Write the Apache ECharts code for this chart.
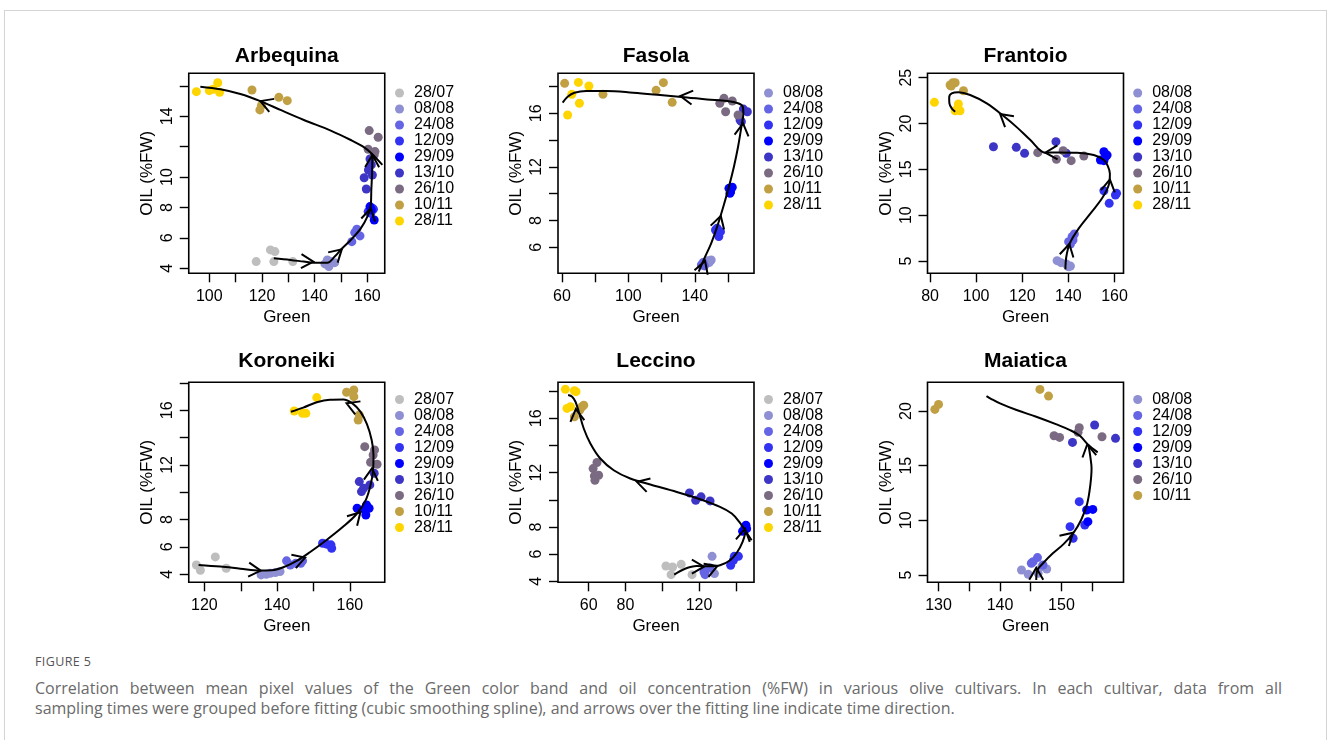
<!DOCTYPE html>
<html>
<head>
<meta charset="utf-8">
<title>Green band vs oil concentration</title>
<script src="https://cdn.jsdelivr.net/npm/echarts@6/dist/echarts.min.js"></script>
<style>
  html, body { margin: 0; padding: 0; background: #fff; }
  #frame { position: absolute; left: 4px; top: 10px; width: 1323px; height: 760px; border: 1px solid #d4d4d4; box-sizing: border-box; }
  #chart { position: absolute; left: 0; top: 0; width: 1328px; height: 645px; }
  #figlabel { position: absolute; left: 35px; top: 653px; font: 12.5px "Open Sans", sans-serif; color: #555; letter-spacing: 0.4px; }
  .capline { position: absolute; left: 35px; font: 16px/20px "Open Sans", sans-serif; color: #6a6a6a; white-space: nowrap; }
  #cap1 { top: 678px; width: 1247px; text-align: justify; text-align-last: justify; }
  #cap2 { top: 698px; }
</style>
</head>
<body>
<div id="frame"></div>
<div id="chart"></div>
<div id="figlabel">FIGURE 5</div>
<div class="capline" id="cap1">Correlation between mean pixel values of the Green color band and oil concentration (%FW) in various olive cultivars. In each cultivar, data from all</div>
<div class="capline" id="cap2">sampling times were grouped before fitting (cubic smoothing spline), and arrows over the fitting line indicate time direction.</div>
<script>
// ---------- sampling dates and their colours ----------
const DATE_COLORS = {
  '28/07': '#BEBEBE', '08/08': '#8F8FD3', '24/08': '#6464E4', '12/09': '#3232F2',
  '29/09': '#0000FF', '13/10': '#3C35C6', '26/10': '#7A6B82', '10/11': '#C1A044', '28/11': '#FFD500'
};

// ---------- Arbequina ----------
const arbequinaDates = ['28/07', '08/08', '24/08', '12/09', '29/09', '13/10', '26/10', '10/11', '28/11'];
const arbequinaGreen = [
  [117.8, 123.2, 124.9, 124.5, 131.7],
  [143.9, 145.4, 146.1, 144.8, 147.6],
  [154.1, 156.0, 157.2, 155.2],
  [160.3, 161.9, 161.3, 162.3],
  [161.0, 162.6, 161.5],
  [158.8, 159.6, 160.4, 161.9, 161.5, 161.0],
  [160.7, 164.1, 160.3, 162.9, 162.6],
  [116.2, 126.4, 129.6, 119.2, 119.8],
  [95.1, 100.0, 103.2, 103.9, 101.4]
];
const arbequinaOil = [
  [4.44, 5.21, 5.10, 4.44, 4.44],
  [4.29, 4.11, 4.44, 4.55, 4.37],
  [5.75, 6.57, 6.13, 6.35],
  [7.73, 7.95, 7.62, 7.89],
  [8.06, 7.18, 7.84],
  [9.96, 9.22, 10.47, 10.14, 10.80, 11.19],
  [13.06, 12.62, 11.83, 11.68, 11.46],
  [15.73, 15.25, 15.03, 14.42, 14.72],
  [15.62, 15.69, 16.21, 15.58, 15.78]
];
const arbequinaFitGreen = [
  [124.5, 130.8, 135.9, 139.5, 144.8, 147.6, 150.1, 153.7, 157.5, 160.0, 161.3, 161.5, 161.8, 161.9, 161.5],
  [165.7, 161.5, 158.8, 153.7, 146.1, 135.9, 127.0, 119.4, 111.8, 104.2, 96.6]
];
const arbequinaFitOil = [
  [4.66, 4.55, 4.44, 4.37, 4.37, 4.77, 5.25, 5.86, 6.63, 7.40, 8.17, 9.15, 10.25, 11.13, 11.57],
  [10.80, 11.57, 11.96, 12.44, 13.06, 13.76, 14.42, 15.00, 15.47, 15.78, 15.95]
];
// arrow: [tip green, tip oil, tail green, tail oil]
const arbequinaArrows = [[139.5, 4.44, 134.0, 4.48], [150.3, 5.25, 147.3, 4.77], [161.3, 7.95, 160.3, 7.18], [161.9, 11.46, 161.8, 10.58], [119.4, 15.00, 123.2, 14.75]];
const arbequinaXTicks = [100, 110, 120, 130, 140, 150, 160];
const arbequinaXLabels = [100, 120, 140, 160];
const arbequinaYTicks = [4, 6, 8, 10, 12, 14, 16];
const arbequinaYLabels = [4, 6, 8, 10, 14];

// ---------- Fasola ----------
const fasolaDates = ['08/08', '24/08', '12/09', '29/09', '13/10', '26/10', '10/11', '28/11'];
const fasolaGreen = [
  [147.4, 149.9, 148.7],
  [144.0, 145.8, 145.0],
  [152.5, 154.5, 155.5, 153.5],
  [160.6, 161.6, 162.6, 161.2],
  [169.3, 171.7, 167.3, 168.1],
  [157.6, 162.6, 155.1, 158.6, 166.1],
  [61.6, 84.7, 116.7, 121.1, 126.4],
  [63.4, 65.9, 69.9, 70.5, 76.2]
];
const fasolaOil = [
  [5.00, 5.05, 4.86],
  [4.68, 4.61, 4.86],
  [7.29, 6.80, 7.17, 7.42],
  [10.40, 10.15, 10.48, 10.03],
  [16.32, 16.12, 15.50, 15.38],
  [17.12, 16.92, 16.75, 16.12, 15.88],
  [18.24, 17.42, 17.72, 18.29, 16.82],
  [15.88, 17.42, 18.31, 16.75, 18.04]
];
const fasolaFitGreen = [
  [142.4, 145.8, 149.9, 153.5, 157.2, 160.6, 163.6, 166.1, 168.1, 169.3, 168.9, 166.1, 159.6, 147.4, 135.3, 119.1, 102.9, 86.7, 74.6, 67.5, 63.4, 60.4]
];
const fasolaFitOil = [
  [4.18, 5.18, 6.30, 7.54, 9.03, 10.53, 12.02, 13.51, 15.00, 16.00, 16.50, 16.75, 16.92, 17.04, 17.19, 17.37, 17.54, 17.67, 17.67, 17.54, 17.24, 16.80]
];
const fasolaArrows = [[146.2, 4.98, 144.0, 4.18], [155.7, 8.34, 153.5, 7.42], [169.1, 15.25, 168.1, 14.26], [131.3, 17.29, 139.4, 17.17]];
const fasolaXTicks = [60, 80, 100, 120, 140, 160];
const fasolaXLabels = [60, 100, 140];
const fasolaYTicks = [6, 8, 10, 12, 14, 16, 18];
const fasolaYLabels = [6, 8, 12, 16];

// ---------- Frantoio ----------
const frantoioDates = ['08/08', '24/08', '12/09', '29/09', '13/10', '26/10', '10/11', '28/11'];
const frantoioGreen = [
  [135.1, 136.8, 140.1, 140.9, 139.1],
  [140.1, 141.6, 142.6, 140.9, 142.0],
  [155.4, 157.7, 160.4, 160.9],
  [155.4, 156.1, 155.4, 153.9, 156.8],
  [107.5, 117.4, 121.0, 134.6, 139.1],
  [126.7, 134.8, 137.7, 141.2, 146.7],
  [88.7, 89.9, 90.9, 94.5, 89.2],
  [81.9, 92.3, 90.9, 93.0, 92.0]
];
const frantoioOil = [
  [5.04, 4.82, 4.38, 4.45, 4.67],
  [7.11, 7.65, 7.95, 6.85, 7.29],
  [12.67, 11.29, 12.20, 12.38],
  [16.93, 16.38, 15.95, 16.02, 16.56],
  [17.47, 17.40, 16.75, 18.02, 16.75],
  [16.82, 16.09, 17.04, 15.95, 16.45],
  [24.20, 24.45, 24.45, 23.58, 24.10],
  [22.31, 22.13, 21.40, 21.40, 21.65]
];
const frantoioFitGreen = [
  [138.7, 139.1, 140.6, 144.5, 149.6, 154.6, 157.5, 158.0, 157.1, 155.4, 151.0, 143.8, 135.1, 130.0, 123.5, 117.7, 111.9, 104.6, 97.4, 92.3, 89.4, 88.3, 88.4, 89.4, 90.9]
];
const frantoioFitOil = [
  [4.09, 5.47, 6.93, 8.56, 10.20, 11.84, 13.29, 14.56, 15.36, 16.02, 16.56, 16.82, 16.85, 16.82, 18.20, 19.58, 20.82, 22.20, 23.11, 23.40, 23.29, 22.85, 22.20, 21.65, 21.29]
];
const frantoioArrows = [[140.4, 6.85, 139.3, 5.65], [158.0, 13.91, 157.1, 12.56], [130.0, 16.82, 136.5, 16.85], [110.4, 21.04, 116.2, 19.84]];
const frantoioXTicks = [80, 100, 120, 140, 160];
const frantoioXLabels = [80, 100, 120, 140, 160];
const frantoioYTicks = [5, 10, 15, 20, 25];
const frantoioYLabels = [5, 10, 15, 20, 25];

// ---------- Koroneiki ----------
const koroneikiDates = ['28/07', '08/08', '24/08', '12/09', '29/09', '13/10', '26/10', '10/11', '28/11'];
const koroneikiGreen = [
  [117.8, 118.9, 123.0, 126.0],
  [135.6, 138.1, 139.5, 140.8, 137.0],
  [142.6, 143.6, 145.1, 146.5, 147.0],
  [152.5, 153.6, 155.0, 154.8],
  [162.0, 164.1, 165.3, 164.4, 164.6],
  [162.6, 163.2, 165.5, 166.7, 163.8],
  [164.1, 166.8, 166.4, 165.7, 167.5],
  [159.1, 161.1, 161.1, 162.6, 162.3],
  [144.7, 147.0, 147.9, 150.9]
];
const koroneikiOil = [
  [4.68, 4.29, 5.27, 4.44],
  [3.95, 4.07, 4.12, 4.20, 4.00],
  [4.98, 4.68, 4.80, 4.80, 4.98],
  [6.27, 6.20, 5.90, 6.15],
  [8.83, 8.71, 8.83, 8.34, 9.07],
  [10.78, 10.05, 10.54, 11.39, 10.30],
  [13.34, 13.10, 12.73, 12.20, 12.05],
  [17.32, 17.49, 17.00, 15.66, 15.29],
  [15.95, 15.78, 15.78, 16.93]
];
const koroneikiFitGreen = [
  [118.4, 124.4, 129.9, 135.3, 138.5, 141.7, 145.4, 149.0, 153.6, 158.2, 161.8, 164.4, 165.7, 166.4, 166.5, 166.0, 164.7, 162.9, 160.7, 158.2, 154.5, 150.9, 147.2, 143.8]
];
const koroneikiFitOil = [
  [4.68, 4.56, 4.41, 4.27, 4.29, 4.51, 4.98, 5.61, 6.51, 7.49, 8.39, 9.44, 10.54, 11.63, 12.73, 13.83, 14.98, 15.90, 16.51, 16.80, 16.78, 16.59, 16.20, 15.90]
];
const koroneikiArrows = [[135.5, 4.27, 132.1, 4.34], [147.7, 5.22, 144.5, 4.93], [162.9, 8.54, 160.9, 7.98], [166.1, 11.76, 165.8, 10.90], [159.1, 16.51, 161.8, 16.22]];
const koroneikiXTicks = [120, 130, 140, 150, 160];
const koroneikiXLabels = [120, 140, 160];
const koroneikiYTicks = [4, 6, 8, 10, 12, 14, 16, 18];
const koroneikiYLabels = [4, 6, 8, 12, 16];

// ---------- Leccino ----------
const leccinoDates = ['28/07', '08/08', '24/08', '12/09', '29/09', '13/10', '26/10', '10/11', '28/11'];
const leccinoGreen = [
  [102.0, 105.6, 110.3, 104.8, 116.2],
  [127.1, 128.4, 124.2],
  [123.3, 122.7, 126.0],
  [137.2, 139.2, 141.4, 138.7],
  [145.0, 145.9, 143.7, 145.5],
  [114.8, 118.2, 121.1, 126.0],
  [64.5, 62.4, 63.1, 65.4, 63.4],
  [52.2, 56.4, 57.3, 55.1],
  [47.3, 52.2, 53.1, 48.2, 50.1]
];
const leccinoOil = [
  [5.13, 5.06, 5.25, 4.49, 4.49],
  [5.84, 4.57, 4.93],
  [4.49, 4.69, 4.98],
  [5.18, 5.84, 5.84, 5.55],
  [8.00, 7.88, 7.69, 8.13],
  [10.51, 9.97, 10.22, 9.92],
  [12.75, 12.30, 11.76, 11.81, 11.44],
  [16.11, 16.85, 16.97, 16.60],
  [18.13, 18.03, 17.96, 16.73, 16.85]
];
const leccinoFitGreen = [
  [106.5, 112.4, 118.8, 126.0, 131.4, 136.9, 140.8, 143.7, 145.4],
  [148.6, 145.4, 141.9, 137.8, 131.4, 120.6, 107.9, 93.5, 82.6, 73.6, 66.3, 60.9, 57.3, 54.6, 52.8, 51.0, 48.8]
];
const leccinoFitOil = [
  [4.49, 4.93, 5.13, 5.11, 5.18, 5.55, 6.16, 6.90, 7.69],
  [7.02, 7.69, 8.37, 8.99, 9.48, 10.04, 10.58, 11.13, 11.57, 12.18, 13.04, 14.15, 15.25, 16.48, 17.22, 17.59, 17.71]
];
const leccinoArrows = [[122.7, 5.08, 116.6, 5.08], [130.0, 5.13, 125.1, 4.88], [145.0, 7.88, 143.7, 6.90], [86.2, 11.32, 92.5, 11.08], [53.0, 16.68, 54.0, 15.62]];
const leccinoXTicks = [60, 80, 100, 120, 140];
const leccinoXLabels = [60, 80, 120];
const leccinoYTicks = [4, 6, 8, 10, 12, 14, 16, 18];
const leccinoYLabels = [4, 6, 8, 12, 16];

// ---------- Maiatica ----------
const maiaticaDates = ['08/08', '24/08', '12/09', '29/09', '13/10', '26/10', '10/11'];
const maiaticaGreen = [
  [143.5, 144.6, 146.2, 147.6, 146.8],
  [145.4, 146.1, 147.0, 145.1],
  [151.4, 151.9, 152.9, 153.8],
  [154.1, 155.1, 154.3],
  [151.8, 155.4, 158.8],
  [148.8, 149.7, 152.9, 152.7, 156.6],
  [129.4, 130.0, 146.5, 147.9]
];
const maiaticaOil = [
  [5.46, 5.06, 5.15, 5.55, 5.76],
  [6.22, 6.59, 5.91, 6.07],
  [9.42, 8.35, 11.71, 9.57],
  [10.95, 11.00, 9.88],
  [17.13, 18.72, 17.50],
  [17.74, 17.59, 18.48, 18.05, 17.65],
  [20.15, 20.61, 21.98, 21.37]
];
const maiaticaFitGreen = [
  [145.9, 146.1, 147.0, 148.6, 150.3, 151.9, 153.2, 154.2, 154.7, 154.9, 154.7, 154.4],
  [155.9, 154.4, 153.0, 151.4, 149.2, 145.9, 142.7, 140.0, 138.6, 137.8]
];
const maiaticaFitOil = [
  [4.54, 5.46, 6.07, 6.98, 7.80, 8.81, 10.03, 11.55, 13.23, 14.76, 15.82, 16.89],
  [16.22, 16.89, 17.74, 18.26, 18.78, 19.48, 20.09, 20.70, 21.10, 21.37]
];
const maiaticaArrows = [[145.9, 5.67, 145.9, 4.70], [151.9, 8.87, 150.3, 8.05], [154.2, 16.95, 154.6, 15.67]];
const maiaticaXTicks = [130, 135, 140, 145, 150, 155];
const maiaticaXLabels = [130, 140, 150];
const maiaticaYTicks = [5, 10, 15, 20];
const maiaticaYLabels = [5, 10, 15, 20];

// ---------- panel table ----------
const panels = [
  { title: 'Arbequina', dates: arbequinaDates, green: arbequinaGreen, oil: arbequinaOil, fitGreen: arbequinaFitGreen, fitOil: arbequinaFitOil, arrows: arbequinaArrows,
    xTicks: arbequinaXTicks, xLabels: arbequinaXLabels, yTicks: arbequinaYTicks, yLabels: arbequinaYLabels, xRange: [92.2, 166.6], yRange: [3.67, 16.83], col: 0, row: 0 },
  { title: 'Fasola', dates: fasolaDates, green: fasolaGreen, oil: fasolaOil, fitGreen: fasolaFitGreen, fitOil: fasolaFitOil, arrows: fasolaArrows,
    xTicks: fasolaXTicks, xLabels: fasolaXLabels, yTicks: fasolaYTicks, yLabels: fasolaYLabels, xRange: [57.6, 175.7], yRange: [4.06, 18.99], col: 1, row: 0 },
  { title: 'Frantoio', dates: frantoioDates, green: frantoioGreen, oil: frantoioOil, fitGreen: frantoioFitGreen, fitOil: frantoioFitOil, arrows: frantoioArrows,
    xTicks: frantoioXTicks, xLabels: frantoioXLabels, yTicks: frantoioYTicks, yLabels: frantoioYLabels, xRange: [78.9, 163.9], yRange: [3.66, 25.48], col: 2, row: 0 },
  { title: 'Koroneiki', dates: koroneikiDates, green: koroneikiGreen, oil: koroneikiOil, fitGreen: koroneikiFitGreen, fitOil: koroneikiFitOil, arrows: koroneikiArrows,
    xTicks: koroneikiXTicks, xLabels: koroneikiXLabels, yTicks: koroneikiYTicks, yLabels: koroneikiYLabels, xRange: [115.7, 169.6], yRange: [3.41, 18.05], col: 0, row: 1 },
  { title: 'Leccino', dates: leccinoDates, green: leccinoGreen, oil: leccinoOil, fitGreen: leccinoFitGreen, fitOil: leccinoFitOil, arrows: leccinoArrows,
    xTicks: leccinoXTicks, xLabels: leccinoXLabels, yTicks: leccinoYTicks, yLabels: leccinoYLabels, xRange: [43.3, 149.9], yRange: [3.93, 18.65], col: 1, row: 1 },
  { title: 'Maiatica', dates: maiaticaDates, green: maiaticaGreen, oil: maiaticaOil, fitGreen: maiaticaFitGreen, fitOil: maiaticaFitOil, arrows: maiaticaArrows,
    xTicks: maiaticaXTicks, xLabels: maiaticaXLabels, yTicks: maiaticaYTicks, yLabels: maiaticaYLabels, xRange: [128.2, 160.1], yRange: [4.33, 22.63], col: 2, row: 1 }
];

// ---------- layout ----------
const FONT = '"Liberation Sans", Arial, Helvetica, sans-serif';
const COL_LEFT = [188.75, 558, 927.5];
const ROW_TOP = [73.3, 382.3];
const BOX_W = 196, BOX_H = 200;
const TITLE_TOP = [45.5, 350.5];
const LEGEND_CX = [399.5, 768.5, 1137.7];
const LEGEND_FIRST_CY = [92.8, 399.3];
const LEGEND_ROW = 15.7;

const option = { animation: false, grid: [], xAxis: [], yAxis: [], title: [], legend: [], series: [] };

function drawArrowHead(params, api) {
  const tip = api.coord([api.value(0), api.value(1)]);
  const tail = api.coord([api.value(2), api.value(3)]);
  const a = Math.atan2(tail[1] - tip[1], tail[0] - tip[0]);
  const L = 14, s = Math.PI / 6;
  return {
    type: 'polyline',
    shape: { points: [
      [tip[0] + L * Math.cos(a + s), tip[1] + L * Math.sin(a + s)],
      tip,
      [tip[0] + L * Math.cos(a - s), tip[1] + L * Math.sin(a - s)]
    ] },
    style: { stroke: '#000', lineWidth: 2, fill: null }
  };
}

panels.forEach((p, i) => {
  const left = COL_LEFT[p.col], top = ROW_TOP[p.row];
  option.grid.push({ left, top, width: BOX_W, height: BOX_H, show: true, borderColor: '#000', borderWidth: 1.6, backgroundColor: 'transparent' });

  option.xAxis.push({
    type: 'value', gridIndex: i, min: p.xRange[0], max: p.xRange[1],
    name: 'Green', nameLocation: 'middle', nameGap: 36,
    nameTextStyle: { fontSize: 17, color: '#000', fontFamily: FONT },
    axisLine: { show: false },
    axisTick: { show: true, customValues: p.xTicks, length: 9, lineStyle: { color: '#000', width: 1.4 } },
    axisLabel: { customValues: p.xLabels, margin: 15, fontSize: 16, color: '#000', fontFamily: FONT },
    splitLine: { show: false }
  });
  option.yAxis.push({
    type: 'value', gridIndex: i, min: p.yRange[0], max: p.yRange[1],
    name: 'OIL (%FW)', nameLocation: 'middle', nameGap: 33,
    nameTextStyle: { fontSize: 17, color: '#000', fontFamily: FONT },
    axisLine: { show: false },
    axisTick: { show: true, customValues: p.yTicks, length: 9, lineStyle: { color: '#000', width: 1.4 } },
    axisLabel: { customValues: p.yLabels, rotate: 90, margin: 13, fontSize: 16, color: '#000', fontFamily: FONT },
    splitLine: { show: false }
  });

  option.title.push({
    text: p.title, left: left + BOX_W / 2, top: TITLE_TOP[p.row], textAlign: 'center', padding: 0,
    textStyle: { fontSize: 21, fontWeight: 'bold', color: '#000', fontFamily: FONT }
  });

  option.legend.push({
    orient: 'vertical', left: LEGEND_CX[p.col] - 4.5, top: LEGEND_FIRST_CY[p.row] - LEGEND_ROW / 2,
    padding: 0, itemGap: 0, itemWidth: 9, itemHeight: 9, selectedMode: false,
    data: p.dates.map(d => ({ name: d, icon: 'circle' })),
    textStyle: { fontSize: 16, color: '#000', fontFamily: FONT, lineHeight: LEGEND_ROW, padding: [0, 0, 0, 5] }
  });

  // measured samples, one series per sampling date
  p.dates.forEach((d, k) => {
    option.series.push({
      type: 'scatter', name: d, xAxisIndex: i, yAxisIndex: i,
      data: p.green[k].map((g, j) => [g, p.oil[k][j]]),
      symbol: 'circle', symbolSize: 9,
      itemStyle: { color: DATE_COLORS[d], opacity: 1 },
      emphasis: { disabled: true }, silent: true, z: 2
    });
  });

  // fitted smoothing spline
  p.fitGreen.forEach((gs, k) => {
    option.series.push({
      type: 'line', xAxisIndex: i, yAxisIndex: i,
      data: gs.map((g, j) => [g, p.fitOil[k][j]]),
      showSymbol: false, symbol: 'none', smooth: 0.35,
      lineStyle: { color: '#000', width: 2 },
      emphasis: { disabled: true }, silent: true, z: 3
    });
  });

  // time-direction arrow heads on the fitted line
  option.series.push({
    type: 'custom', xAxisIndex: i, yAxisIndex: i,
    dimensions: ['tipGreen', 'tipOil', 'tailGreen', 'tailOil'],
    encode: { x: [0, 2], y: [1, 3] },
    data: p.arrows, renderItem: drawArrowHead, silent: true, z: 4
  });
});

const chart = echarts.init(document.getElementById('chart'), null, { renderer: 'canvas' });
chart.setOption(option);
</script>
</body>
</html>
